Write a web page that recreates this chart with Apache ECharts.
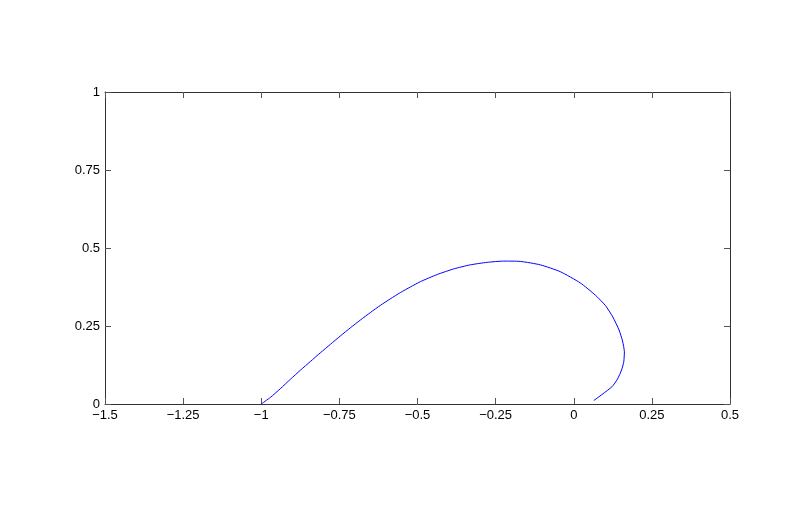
<!DOCTYPE html>
<html><head><meta charset="utf-8">
<script src="https://cdn.jsdelivr.net/npm/echarts@6/dist/echarts.min.js"></script>
<style>html,body{margin:0;padding:0;background:#fff}#c{width:806px;height:514px}</style>
</head><body><div id="c"></div>
<script>
var xs = [-1.0, -0.971, -0.939, -0.907, -0.875, -0.843, -0.811, -0.779, -0.747, -0.715, -0.683, -0.651, -0.619, -0.587, -0.555, -0.523, -0.491, -0.437, -0.384, -0.331, -0.277, -0.224, -0.171, -0.107, -0.043, 0.021, 0.069, 0.101, 0.125, 0.145, 0.156, 0.162, 0.160, 0.153, 0.140, 0.122, 0.064];
var ys = [0.0, 0.021, 0.049, 0.079, 0.108, 0.136, 0.164, 0.191, 0.218, 0.244, 0.269, 0.293, 0.316, 0.337, 0.357, 0.375, 0.392, 0.415, 0.433, 0.446, 0.454, 0.458, 0.457, 0.446, 0.424, 0.388, 0.349, 0.316, 0.279, 0.237, 0.202, 0.167, 0.135, 0.109, 0.080, 0.055, 0.011];
var xTicks = {min: -1.5, max: 0.5, interval: 0.25};
var yTicks = {min: 0, max: 1, interval: 0.25};

var pts = xs.map(function (x, i) { return [x, ys[i]]; });
function fmt(v) { return String(+v.toFixed(2)).replace('-', '\u2212'); }
var lineStyle = {color: '#333', width: 1};
var font = {color: '#000', fontSize: 13, fontFamily: 'Liberation Sans, Arial, sans-serif'};
function axis(pos, t, show) {
  return {
    type: 'value', position: pos, min: t.min, max: t.max, interval: t.interval,
    axisLine: {show: true, onZero: false, lineStyle: lineStyle},
    axisTick: {show: true, inside: true, length: 6, lineStyle: {color: '#555', width: 1}},
    axisLabel: Object.assign({show: show, margin: 5, formatter: fmt}, font),
    splitLine: {show: false}
  };
}
var chart = echarts.init(document.getElementById('c'), null, {renderer: 'canvas'});
chart.setOption({
  animation: false,
  backgroundColor: '#fff',
  grid: {left: 105, right: 76, top: 92, bottom: 110, containLabel: false},
  xAxis: [axis('bottom', xTicks, true), axis('top', xTicks, false)],
  yAxis: [axis('left', yTicks, true), axis('right', yTicks, false)],
  series: [{
    type: 'line', data: pts, xAxisIndex: 0, yAxisIndex: 0,
    showSymbol: false, smooth: 0.2,
    lineStyle: {color: '#0000ff', width: 1}
  }]
});
</script></body></html>
